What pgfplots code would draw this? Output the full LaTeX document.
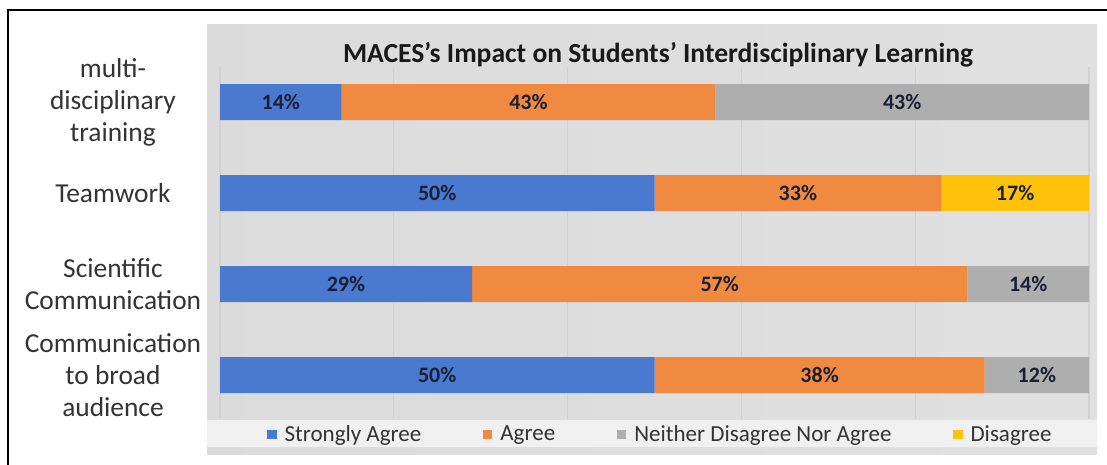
\documentclass[border=0pt]{standalone}
\usepackage{pgfplots}
\pgfplotsset{compat=1.18}
\usepackage{fontspec}
\setmainfont{Carlito}
\definecolor{cBlue}{HTML}{4A7AD0}
\definecolor{cOrange}{HTML}{F08A40}
\definecolor{cGray}{HTML}{AEAEAE}
\definecolor{cYellow}{HTML}{FFC20A}
\definecolor{labelgray}{HTML}{333333}
\definecolor{navy}{HTML}{1A1F33}
\begin{document}
\begin{tikzpicture}
\useasboundingbox (0,0) rectangle (553.5pt,232.5pt);
\shade[left color=black!14, middle color=black!6, right color=black!12] (103.5pt,5pt) rectangle (548.5pt,220pt);
\fill[black!6] (103.5pt,9pt) rectangle (548.5pt,22.5pt);
\draw[line width=1pt] (4pt,0pt) -- (4pt,227.5pt) -- (553.5pt,227.5pt);
\node[font=\bfseries\fontsize{13.8}{16}\selectfont, text=black!90] at (329pt,205pt) {MACES’s Impact on Students’ Interdisciplinary Learning};
\begin{axis}[
  at={(110pt,23pt)}, anchor=south west,
  scale only axis, width=434.5pt, height=176pt,
  xbar stacked, bar width=18pt,
  xmin=0, xmax=100, ymin=-0.4835, ymax=3.385,
  ytick={0,1,2,3},
  yticklabels={{Communication\\to broad\\audience},{Scientific\\Communication},Teamwork,{multi-\\disciplinary\\training}},
  yticklabel style={align=center, anchor=center, xshift=-53.5pt, font=\fontsize{13.7}{16}\selectfont, text=labelgray},
  xtick={0,20,40,60,80,100}, xticklabels={},
  xmajorgrids, grid style={black!18, line width=0.6pt},
  axis line style={draw=none}, major tick length=0pt,
  nodes near coords, point meta=explicit symbolic,
  every node near coord/.append style={font=\bfseries\fontsize{11}{13}\selectfont, text=navy},
  legend columns=4,
  legend style={at={(0.508,-0.045)}, anchor=center, draw=none, fill=none,
    font=\fontsize{11.5}{13}\selectfont, text=labelgray,
    /tikz/every odd column/.append style={column sep=2pt},
    /tikz/every even column/.append style={column sep=29pt}},
  legend cell align=left,
  legend image code/.code={\fill[#1] (0pt,-2.3pt) rectangle (4.6pt,2.3pt);},
]
\addplot[fill=cBlue, draw=none] coordinates {(50,0) [50\%] (29,1) [29\%] (50,2) [50\%] (14,3) [14\%]};
\addplot[fill=cOrange, draw=none] coordinates {(38,0) [38\%] (57,1) [57\%] (33,2) [33\%] (43,3) [43\%]};
\addplot[fill=cGray, draw=none] coordinates {(12,0) [12\%] (14,1) [14\%] (0,2) [{}] (43,3) [43\%]};
\addplot[fill=cYellow, draw=none] coordinates {(0,0) [{}] (0,1) [{}] (17,2) [17\%] (0,3) [{}]};
\legend{Strongly Agree, Agree, Neither Disagree Nor Agree, Disagree}
\end{axis}
\end{tikzpicture}
\end{document}
